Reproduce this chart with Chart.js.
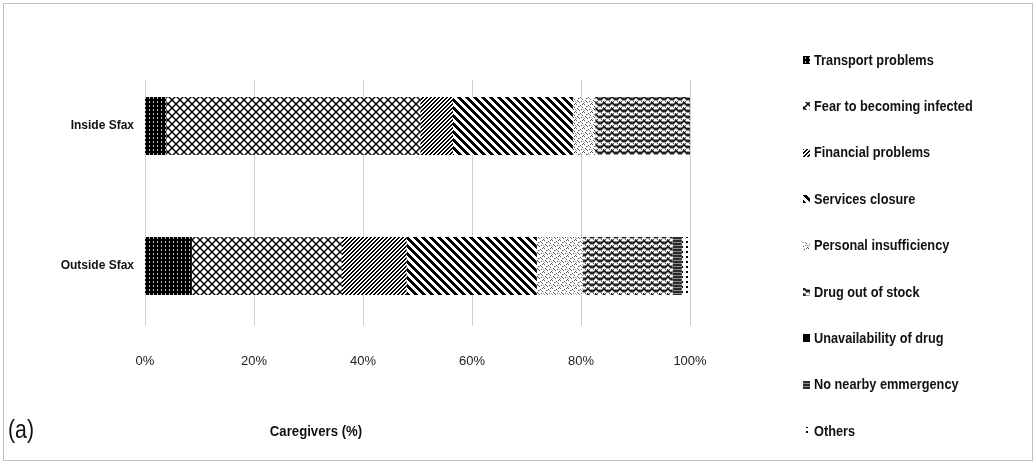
<!DOCTYPE html>
<html>
<head>
<meta charset="utf-8">
<script src="https://cdn.jsdelivr.net/npm/chart.js@4.4.1/dist/chart.umd.min.js"></script>
<style>
  html, body { margin: 0; padding: 0; background: #fff; }
  #wrap { position: relative; width: 1036px; height: 464px; }
</style>
</head>
<body>
<div id="wrap"><canvas id="c" width="1036" height="464"></canvas></div>
<script>
// Caregiver groups and reported reasons (share of caregivers, %)
const groups = ['Inside Sfax', 'Outside Sfax'];
const reasons = ['Transport problems', 'Fear to becoming infected', 'Financial problems',
  'Services closure', 'Personal insufficiency', 'Drug out of stock',
  'Unavailability of drug', 'No nearby emmergency', 'Others'];

const transport     = [3.9, 8.6];
const fear          = [46.6, 27.5];
const financial     = [6.0, 11.9];
const closure       = [22.0, 23.9];
const insufficiency = [4.1, 8.4];
const outOfStock    = [17.4, 16.5];
const unavailable   = [0, 0];
const noEmergency   = [0, 1.7];
const others        = [0, 1.5];

const xTicks = [0, 20, 40, 60, 80, 100];

const FONT = "'Liberation Sans', Arial, sans-serif";

// ---- hatch fills -------------------------------------------------------
const base = document.getElementById('c').getContext('2d');
function tile(w, h, draw) {
  const cv = document.createElement('canvas');
  cv.width = w; cv.height = h;
  const t = cv.getContext('2d');
  draw(t, w, h);
  return base.createPattern(cv, 'repeat');
}
function px(t, list, color) {
  t.fillStyle = color;
  list.forEach(([x, y]) => t.fillRect(x, y, 1, 1));
}

const fills = [
  // dark field with light dots
  tile(4, 4, (t) => { t.fillStyle = '#000'; t.fillRect(0, 0, 4, 4); t.fillStyle = '#bdbdbd'; t.fillRect(1, 1, 1, 2); }),
  // diamond lattice
  tile(8, 8, (t, w, h) => {
    t.fillStyle = '#fff'; t.fillRect(0, 0, w, h);
    t.strokeStyle = '#000'; t.lineWidth = 1.4;
    for (const o of [-8, 0, 8]) {
      t.beginPath(); t.moveTo(o - 1, -1); t.lineTo(o + 9, 9); t.stroke();
      t.beginPath(); t.moveTo(o + 9, -1); t.lineTo(o - 1, 9); t.stroke();
    }
  }),
  // fine forward diagonals
  tile(4, 4, (t) => {
    t.fillStyle = '#fff'; t.fillRect(0, 0, 4, 4);
    for (let x = 0; x < 4; x++) { px(t, [[x, (3 - x + 4) % 4], [x, (4 - x) % 4]], '#000'); }
  }),
  // wide back diagonals
  tile(8, 8, (t) => {
    t.fillStyle = '#fff'; t.fillRect(0, 0, 8, 8);
    for (let x = 0; x < 8; x++) for (let y = 0; y < 8; y++) {
      if (((x - y) % 8 + 8) % 8 < 4) px(t, [[x, y]], '#000');
    }
  }),
  // light speckle
  tile(8, 8, (t) => {
    t.fillStyle = '#fff'; t.fillRect(0, 0, 8, 8);
    px(t, [[0, 0], [4, 1], [2, 2], [6, 3], [1, 4], [5, 5], [3, 6], [7, 7], [6, 0], [2, 5]], '#555');
    px(t, [[3, 2], [7, 5], [0, 6], [5, 2]], '#999');
  }),
  // weave / zigzag
  tile(8, 6, (t) => {
    t.fillStyle = '#fff'; t.fillRect(0, 0, 8, 6);
    t.strokeStyle = '#222'; t.lineWidth = 2;
    for (const oy of [-6, 0, 6]) {
      t.beginPath();
      t.moveTo(-2, oy + 0.5); t.lineTo(1, oy + 3.5); t.lineTo(4, oy + 0.5); t.lineTo(7, oy + 3.5); t.lineTo(10, oy + 0.5);
      t.stroke();
    }
    px(t, [[1, 5], [5, 5], [3, 5]], '#555');
  }),
  // solid
  '#000',
  // dark small grid
  tile(3, 3, (t) => { t.fillStyle = '#2a2a2a'; t.fillRect(0, 0, 3, 3); t.fillStyle = '#8a8a8a'; t.fillRect(0, 2, 3, 1); }),
  // sparse dots
  tile(5, 5, (t) => { t.fillStyle = '#fff'; t.fillRect(0, 0, 5, 5); t.fillStyle = '#000'; t.fillRect(1, 1, 2, 2); })
];

const seriesValues = [transport, fear, financial, closure, insufficiency, outOfStock, unavailable, noEmergency, others];

const datasets = reasons.map((name, i) => ({
  label: name,
  data: seriesValues[i],
  backgroundColor: fills[i],
  borderWidth: 0,
  categoryPercentage: 1,
  barPercentage: 0.414
}));

// condensed text helper
function narrowText(ctx, text, x, y, squeeze) {
  ctx.save();
  ctx.translate(x, y);
  ctx.scale(squeeze, 1);
  ctx.fillText(text, 0, 0);
  ctx.restore();
}

// ---- frame, grid, legend and captions ---------------------------------
const GRID_TOP = 80, GRID_BOTTOM = 326;
const decorations = {
  id: 'decorations',
  beforeDraw(chart) {
    const ctx = chart.ctx;
    ctx.save();
    ctx.fillStyle = '#fff';
    ctx.fillRect(0, 0, chart.width, chart.height);
    ctx.strokeStyle = '#bdbdbd';
    ctx.lineWidth = 1;
    ctx.strokeRect(3.5, 3.5, chart.width - 7, chart.height - 7);
    ctx.restore();
  },
  beforeDatasetsDraw(chart) {
    const ctx = chart.ctx, xs = chart.scales.x;
    ctx.save();
    ctx.strokeStyle = '#cfcfcf';
    ctx.lineWidth = 1;
    xTicks.forEach(v => {
      const x = Math.round(xs.getPixelForValue(v)) + 0.5;
      ctx.beginPath(); ctx.moveTo(x, GRID_TOP); ctx.lineTo(x, GRID_BOTTOM); ctx.stroke();
    });
    ctx.restore();
  },
  afterDraw(chart) {
    const ctx = chart.ctx;
    ctx.save();
    // legend
    ctx.font = 'bold 15px ' + FONT;
    ctx.textBaseline = 'middle';
    chart.data.datasets.forEach((ds, i) => {
      const y = 60 + i * 46.4;
      ctx.fillStyle = ds.backgroundColor;
      ctx.fillRect(803, Math.round(y) - 4, 7, 8);
      ctx.fillStyle = '#111';
      narrowText(ctx, ds.label, 814, y + 0.5, 0.85);
    });
    // axis caption
    ctx.font = 'bold 15px ' + FONT;
    ctx.textAlign = 'center';
    narrowText(ctx, 'Caregivers (%)', 316, 432, 0.88);
    // panel tag
    ctx.font = '25px ' + FONT;
    ctx.textAlign = 'left';
    narrowText(ctx, '(a)', 8, 431, 0.85);
    ctx.restore();
  }
};

new Chart(document.getElementById('c'), {
  type: 'bar',
  data: { labels: groups, datasets },
  options: {
    indexAxis: 'y',
    responsive: false,
    animation: false,
    devicePixelRatio: 1,
    layout: { padding: { top: 56, right: 346, left: 0, bottom: 0 } },
    plugins: { legend: { display: false }, tooltip: { enabled: false } },
    scales: {
      x: {
        stacked: true, min: 0, max: 100,
        afterBuildTicks(scale) { scale.ticks = xTicks.map(v => ({ value: v })); },
        afterFit(scale) { scale.height = 128; },
        grid: { display: false, drawTicks: false },
        border: { display: false },
        ticks: {
          padding: 18,
          color: '#222',
          font: { family: FONT, size: 13 },
          callback: v => v + '%'
        }
      },
      y: {
        stacked: true,
        afterFit(scale) { scale.width = 145; },
        grid: { display: false, drawTicks: false },
        border: { display: false },
        ticks: {
          padding: 11,
          color: '#111',
          font: { family: FONT, size: 12, weight: 'bold' }
        }
      }
    }
  },
  plugins: [decorations]
});
</script>
</body>
</html>
